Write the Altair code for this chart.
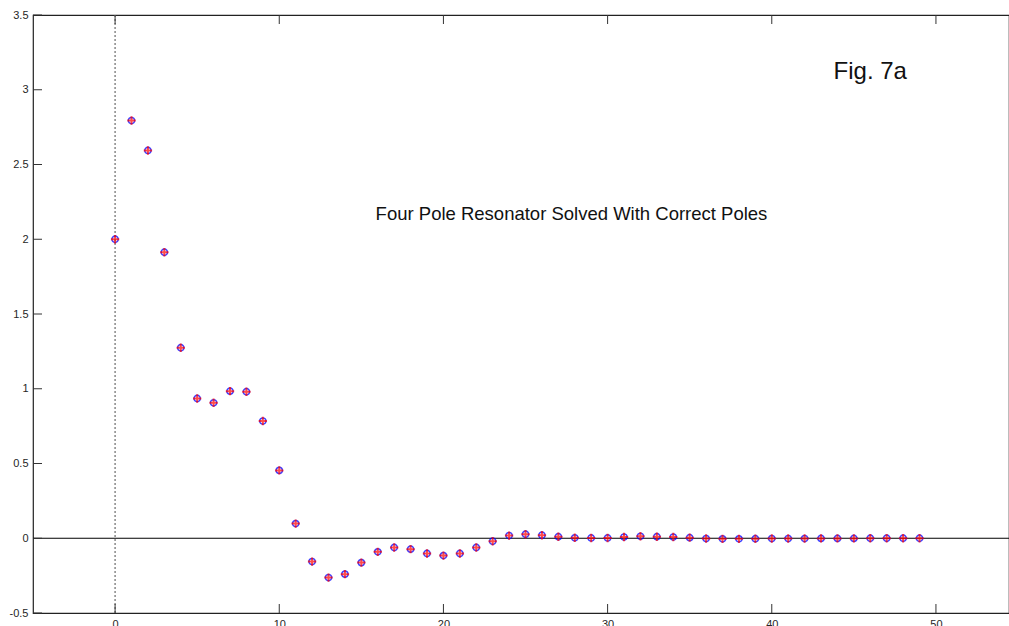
import altair as alt
import pandas as pd

# sample index
n_idx = list(range(50))
# blue circles (computed response)
blue_vals = [2.0, 2.794, 2.594, 1.913, 1.274, 0.935, 0.906, 0.984, 0.98, 0.784,
             0.454, 0.098, -0.156, -0.263, -0.24, -0.163, -0.091, -0.062, -0.073, -0.102,
             -0.116, -0.102, -0.062, -0.02, 0.018, 0.027, 0.02, 0.01, 0.003, 0.002,
             0.002, 0.008, 0.013, 0.01, 0.008, 0.004, -0.002, -0.004, -0.004, -0.003,
             -0.002, -0.002, -0.002, -0.001, -0.001, -0.001, 0.0, 0.0, 0.0, 0.0]
# red pluses (reference response)
red_vals = [2.0, 2.794, 2.594, 1.913, 1.274, 0.935, 0.906, 0.984, 0.98, 0.784,
            0.454, 0.098, -0.156, -0.263, -0.24, -0.163, -0.091, -0.062, -0.073, -0.102,
            -0.116, -0.102, -0.062, -0.02, 0.018, 0.027, 0.02, 0.01, 0.003, 0.002,
            0.002, 0.008, 0.013, 0.01, 0.008, 0.004, -0.002, -0.004, -0.004, -0.003,
            -0.002, -0.002, -0.002, -0.001, -0.001, -0.001, 0.0, 0.0, 0.0, 0.0]

x_ticks = [0, 10, 20, 30, 40, 50]
y_ticks = [-0.5, 0, 0.5, 1, 1.5, 2, 2.5, 3, 3.5]
x_domain = [-5, 54.45]
y_domain = [-0.5, 3.5]

title_text = ["Four Pole Resonator Solved With Correct Poles"]
title_pos = [27.8, 2.17]
fig_text = ["Fig. 7a"]
fig_pos = [46.0, 3.12]

W, H = 976, 598
FONT = "Liberation Sans"

df = pd.DataFrame({"n": n_idx, "blue": blue_vals, "red": red_vals})
xs = alt.Scale(domain=x_domain, nice=False, zero=False)
ys = alt.Scale(domain=y_domain, nice=False, zero=False)

x_enc = alt.X("n:Q", scale=xs, axis=alt.Axis(values=x_ticks, tickSize=0, grid=False, domain=False,
                                              labelPadding=5, title=None, labelFont=FONT,
                                              labelFontSize=11, labelColor="#262626"))
base = alt.Chart(df)

blue = base.mark_point(shape="circle", filled=False, color="#0000ff", size=40, strokeWidth=1.5, opacity=0.75).encode(
    x=x_enc,
    y=alt.Y("blue:Q", scale=ys, axis=alt.Axis(values=y_ticks, tickSize=0, grid=False, domain=False,
                                              labelPadding=5, title=None, labelFont=FONT,
                                              labelFontSize=11, labelColor="#262626",
                                              labelExpr="datum.value + ''")),
)
red = base.mark_point(shape="M-1,0L1,0M0,-1L0,1", filled=False, color="#ff0000", size=70, strokeWidth=2).encode(
    x=alt.X("n:Q", scale=xs),
    y=alt.Y("red:Q", scale=ys),
)

zero_df = pd.DataFrame({"z": [0]})
zero_line = alt.Chart(zero_df).mark_rule(color="black", strokeWidth=1.2).encode(
    y=alt.Y("z:Q", scale=ys)
)
vline = alt.Chart(zero_df).mark_rule(color="#777777", strokeWidth=1.3, strokeDash=[2, 2]).encode(
    x=alt.X("z:Q", scale=xs)
)

yt = alt.Chart(pd.DataFrame({"v": y_ticks})).mark_rule(color="#333333", strokeWidth=1).encode(
    y=alt.Y("v:Q", scale=ys), x=alt.value(0), x2=alt.value(9)
)
xt = pd.DataFrame({"v": x_ticks})
xt_bot = alt.Chart(xt).mark_rule(color="#333333", strokeWidth=1).encode(
    x=alt.X("v:Q", scale=xs), y=alt.value(H), y2=alt.value(H - 9)
)
xt_top = alt.Chart(xt).mark_rule(color="#333333", strokeWidth=1).encode(
    x=alt.X("v:Q", scale=xs), y=alt.value(0), y2=alt.value(9)
)

t1 = alt.Chart(pd.DataFrame({"t": title_text, "x": [title_pos[0]], "y": [title_pos[1]]})).mark_text(
    font=FONT, fontSize=18.5, color="#111111", align="center", baseline="middle"
).encode(x=alt.X("x:Q", scale=xs), y=alt.Y("y:Q", scale=ys), text="t:N")
t2 = alt.Chart(pd.DataFrame({"t": fig_text, "x": [fig_pos[0]], "y": [fig_pos[1]]})).mark_text(
    font=FONT, fontSize=24, color="#111111", align="center", baseline="middle"
).encode(x=alt.X("x:Q", scale=xs), y=alt.Y("y:Q", scale=ys), text="t:N")

chart = alt.layer(zero_line, vline, yt, xt_bot, xt_top, blue, red, t1, t2).properties(
    width=W, height=H,
    autosize=alt.AutoSizeParams(type="none"),
    padding={"left": 33, "top": 15, "right": 0, "bottom": 13},
    background="white",
).configure_view(stroke="#222222", strokeWidth=1.2)

chart.save("out.html", embed_options={"renderer": "svg", "actions": False})
